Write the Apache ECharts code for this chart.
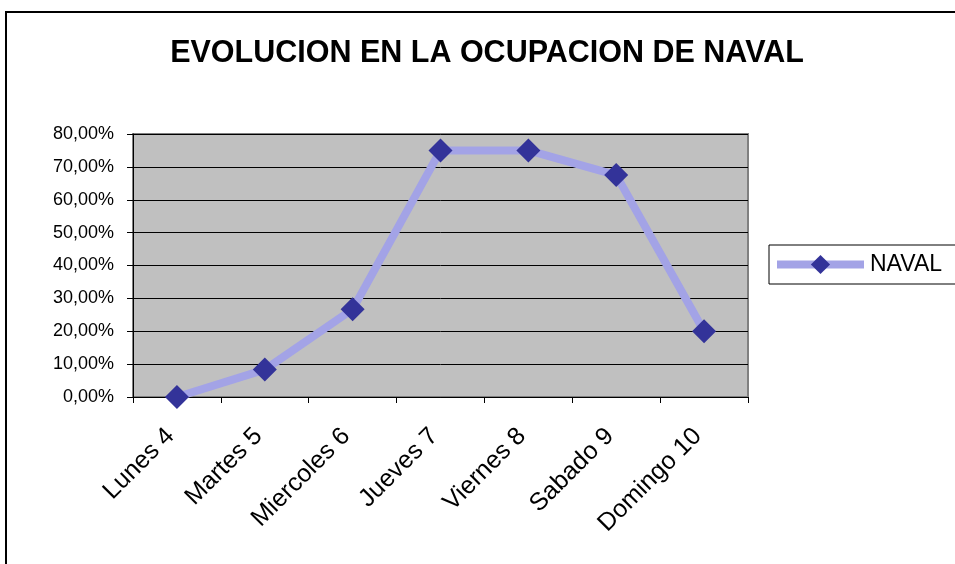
<!DOCTYPE html>
<html lang="es">
<head>
    <meta charset="UTF-8">
    <title>EVOLUCION EN LA OCUPACION DE NAVAL</title>
    <script src="https://cdn.jsdelivr.net/npm/echarts@6.0.0/dist/echarts.min.js"></script>
    <style>
        html, body {
            margin: 0;
            padding: 0;
            background: #fff;
        }
        #frame {
            position: absolute;
            left: 5px;
            top: 11px;
            width: 960px;
            height: 560px;
            border-top: 2px solid #000;
            border-left: 2px solid #000;
        }
        #chart {
            position: absolute;
            left: 0;
            top: 0;
            width: 955px;
            height: 564px;
        }
    </style>
</head>
<body>
<div id="frame"></div>
<div id="chart"></div>
<script>
const dias = ['Lunes 4', 'Martes 5', 'Miercoles 6', 'Jueves 7', 'Viernes 8', 'Sabado 9', 'Domingo 10'];
const naval = [0, 8.33, 26.67, 75, 75, 67.5, 20];
const yTicks = [0, 10, 20, 30, 40, 50, 60, 70, 80];

const font = 'Arial, "Liberation Sans", sans-serif';

const chart = echarts.init(document.getElementById('chart'));
chart.setOption({
    animation: false,
    title: {
        text: 'EVOLUCION EN LA OCUPACION DE NAVAL',
        left: 482,
        top: 33,
        textAlign: 'center',
        textStyle: {
            fontFamily: font,
            fontWeight: 'bold',
            fontSize: 30.5,
            color: '#000'
        }
    },
    legend: {
        data: ['NAVAL'],
        left: 769,
        top: 245,
        itemWidth: 87,
        itemHeight: 24,
        itemGap: 0,
        padding: [8, 30, 8, 4],
        borderColor: '#000',
        borderWidth: 1,
        lineStyle: { width: 8 },
        textStyle: {
            fontFamily: font,
            fontSize: 23,
            color: '#000',
            padding: [0, 0, 0, 1]
        }
    },
    grid: {
        left: 133,
        top: 134,
        right: 207,
        bottom: 167,
        show: true,
        backgroundColor: '#c0c0c0',
        borderColor: '#808080',
        borderWidth: 2
    },
    xAxis: {
        type: 'category',
        data: dias,
        boundaryGap: true,
        axisLine: { lineStyle: { color: '#000', width: 1 } },
        axisTick: { show: true, length: 6, inside: false, lineStyle: { color: '#000' } },
        axisLabel: {
            rotate: 45,
            margin: 29,
            padding: [0, 9, 0, 0],
            fontFamily: font,
            fontSize: 25,
            color: '#000',
            interval: 0
        },
        splitLine: { show: false }
    },
    yAxis: {
        type: 'value',
        min: yTicks[0],
        max: yTicks[yTicks.length - 1],
        interval: 10,
        axisLine: { show: true, lineStyle: { color: '#000', width: 1 } },
        axisTick: { show: true, length: 6, lineStyle: { color: '#000' } },
        axisLabel: {
            margin: 19,
            fontFamily: font,
            fontSize: 18,
            color: '#000',
            formatter: v => v.toFixed(2).replace('.', ',') + '%'
        },
        splitLine: { show: true, lineStyle: { color: '#000', width: 1 } }
    },
    series: [{
        name: 'NAVAL',
        type: 'line',
        data: naval,
        symbol: 'diamond',
        symbolSize: 24,
        itemStyle: { color: '#333399' },
        lineStyle: { color: '#a3a3e6', width: 8 }
    }]
});
</script>
</body>
</html>
